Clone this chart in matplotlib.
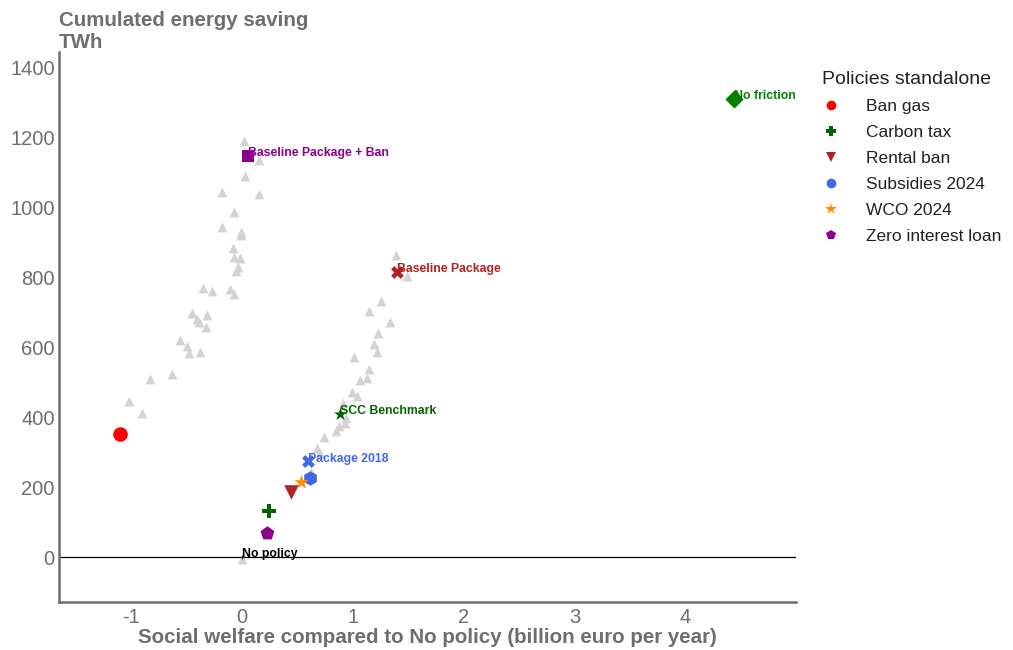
import matplotlib
matplotlib.use("Agg")
import matplotlib.pyplot as plt
from matplotlib.lines import Line2D

plt.rcParams['font.family'] = ['Liberation Sans', 'DejaVu Sans']
plt.rcParams['axes.unicode_minus'] = False

# Other scenarios (grey triangles)
scen_x = [0.018, 0.153, 0.027, -0.18, 0.153, -0.072, -0.18, -0.009, -0.009, -0.081,
          -0.072, -0.018, -0.036, -0.054, -0.351, -0.27, -0.108, -0.072, -0.45, -0.315,
          -0.405, -0.387, -0.324, -0.559, -0.495, -0.477, -0.378, -0.631, -0.829, -1.018,
          -0.901,
          1.387, 1.486, 1.252, 1.144, 1.333, 1.225, 1.189, 1.216, 1.009, 1.144,
          1.063, 1.126, 0.991, 1.036, 0.910, 0.937, 0.928, 0.874, 0.847, 0.739,
          0.676, 0.703, 0.622, 0.0]
scen_y = [1189, 1134, 1089, 1043, 1037, 986, 943, 920, 929, 883,
          857, 854, 829, 817, 769, 760, 766, 751, 697, 691,
          680, 671, 657, 620, 603, 583, 586, 523, 509, 446,
          411,
          863, 803, 731, 703, 671, 640, 609, 586, 571, 537,
          506, 511, 471, 460, 440, 397, 383, 374, 360, 343,
          311, 297, 243, -4]

# Standalone policies (legend)
pol_names = ["Ban gas", "Carbon tax", "Rental ban", "Subsidies 2024", "WCO 2024", "Zero interest loan"]
pol_x = [-1.099, 0.243, 0.441, 0.613, 0.532, 0.225]
pol_y = [351, 131, 186, 226, 214, 69]
pol_colors = ["#ff0000", "#006400", "#b22222", "#4169e1", "#ff8c00", "#8b008b"]
pol_markers = ["o", "P", "v", "h", "*", "p"]

# Labelled packages
pkg_names = ["No friction", "Baseline Package + Ban", "Baseline Package", "SCC Benchmark", "Package 2018", "No policy"]
pkg_x = [4.441, 0.054, 1.396, 0.883, 0.595, 0.0]
pkg_y = [1309, 1146, 814, 409, 274, 0]
pkg_colors = ["#008000", "#8b008b", "#b22222", "#006400", "#4169e1", "#000000"]
pkg_markers = ["D", "s", "X", "*", "X", "+"]

grey = "#6e6e6e"

fig = plt.figure(figsize=(10.13, 6.5), dpi=100)
ax = fig.add_axes([0.0582, 0.0738, 0.7276, 0.846])

ax.axhline(0, color="black", lw=0.9, zorder=1)

ax.scatter(scen_x, scen_y, marker="^", s=50, color="#d3d3d3", zorder=2, linewidths=0)

for n, x, y, c, m in zip(pol_names, pol_x, pol_y, pol_colors, pol_markers):
    size = 120 if m == "*" else 110
    ax.scatter([x], [y], marker=m, s=size, color=c, zorder=3, linewidths=0)

for n, x, y, c, m in zip(pkg_names, pkg_x, pkg_y, pkg_colors, pkg_markers):
    if m == "+":
        ax.scatter([x], [y], marker=m, s=12, color="#333333", zorder=3, linewidths=0.8)
    else:
        size = 100 if m == "*" else 85
        ax.scatter([x], [y], marker=m, s=size, color=c, zorder=3, linewidths=0)
    ax.text(x, y + 8, n, color=c, fontsize=8.8, fontweight="bold", ha="left", va="center",
            zorder=4)

ax.set_xlim(-1.65, 5.0)
ax.set_ylim(-128, 1443)
ax.set_xticks([-1, 0, 1, 2, 3, 4])
ax.set_yticks([0, 200, 400, 600, 800, 1000, 1200, 1400])
ax.tick_params(length=0, labelsize=14.5, labelcolor=grey)
ax.tick_params(axis="y", pad=3)
ax.tick_params(axis="x", pad=4)

for s in ["top", "right"]:
    ax.spines[s].set_visible(False)
for s in ["left", "bottom"]:
    ax.spines[s].set_color(grey)
    ax.spines[s].set_linewidth(1.8)

ax.set_xlabel("Social welfare compared to No policy (billion euro per year)",
              fontsize=14.8, fontweight="bold", color=grey, labelpad=1)
fig.text(0.0582, 0.9515, "Cumulated energy saving\nTWh", fontsize=14.8, fontweight="bold",
         color=grey, ha="left", va="center", linespacing=1.15)

handles = [Line2D([0], [0], marker=m, color="w", markerfacecolor=c, markeredgewidth=0,
                  markersize=7 if m != "*" else 9, linestyle="")
           for m, c in zip(pol_markers, pol_colors)]
handles[3] = Line2D([0], [0], marker="o", color="w", markerfacecolor=pol_colors[3],
                    markeredgewidth=0, markersize=7, linestyle="")
leg = fig.legend(handles, pol_names, title="Policies standalone", loc="upper left",
                 bbox_to_anchor=(0.8115, 0.891), frameon=False, fontsize=12.5,
                 title_fontsize=14, handletextpad=1.47, labelspacing=0.63,
                 alignment="left", handlelength=1.06, borderpad=0, borderaxespad=0)
for t in leg.get_texts():
    t.set_color("#222222")
leg.get_title().set_color("#222222")

fig.savefig("out.png", dpi=100)
